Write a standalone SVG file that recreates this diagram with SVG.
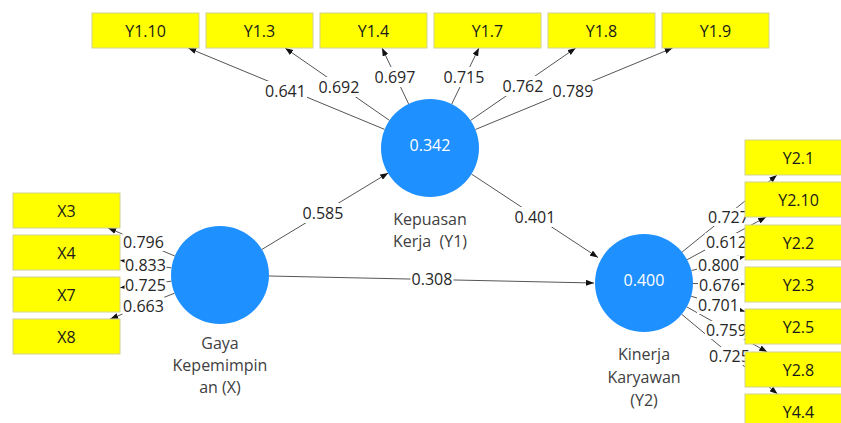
<svg xmlns="http://www.w3.org/2000/svg" width="841" height="423" viewBox="0 0 841 423">
<defs>
<marker id="arr" markerWidth="8" markerHeight="6" refX="8" refY="3" orient="auto" markerUnits="userSpaceOnUse">
<path d="M0,0 L8,3 L0,6 z" fill="#111"/>
</marker>
<style>
text{font-family:"Open Sans","Noto Sans","Liberation Sans",sans-serif;font-size:16px;text-anchor:middle}
.conn line{stroke:#555;stroke-width:1;marker-end:url(#arr)}
.lbl rect{fill:#fff}
.lbl text{fill:#262626}
.ind rect{fill:#ffff00;stroke:#d2d290;stroke-width:1}
.ind text{fill:#1a1a1a}
.lv circle{fill:#1e90ff}
.lv .val{fill:#ffffff}
.lv .name{fill:#404040}
</style>
</defs>
<rect width="841" height="423" fill="#ffffff"/>
<g id="connectors" class="conn">
<line x1="384.6" y1="129.4" x2="188.2" y2="48"/>
<line x1="389.5" y1="120.4" x2="285.1" y2="48"/>
<line x1="408.6" y1="103.9" x2="382" y2="48"/>
<line x1="451.7" y1="104.1" x2="478.9" y2="48"/>
<line x1="470.5" y1="120.5" x2="575.7" y2="48"/>
<line x1="475.4" y1="129.5" x2="672.6" y2="48"/>
<line x1="174.8" y1="256" x2="108.1" y2="228"/>
<line x1="171.5" y1="267.9" x2="120" y2="260.3"/>
<line x1="171.4" y1="281.2" x2="120" y2="287.7"/>
<line x1="174.5" y1="293.2" x2="110.2" y2="319"/>
<line x1="682" y1="252.1" x2="777" y2="175"/>
<line x1="687.1" y1="259.7" x2="766.1" y2="217"/>
<line x1="691.4" y1="270.6" x2="745" y2="256.5"/>
<line x1="693" y1="283.5" x2="745" y2="284"/>
<line x1="691.2" y1="296.3" x2="745" y2="311.4"/>
<line x1="686.8" y1="306.9" x2="767.2" y2="352"/>
<line x1="681.7" y1="314.3" x2="777.5" y2="394"/>
<line x1="261.8" y1="249.5" x2="388.2" y2="173"/>
<line x1="471.4" y1="174" x2="598" y2="257.5"/>
<line x1="269" y1="276" x2="594" y2="283"/>
<g class="lbl">
<rect x="264" y="81" width="43" height="20"/><text x="285.5" y="97">0.641</text>
<rect x="317.5" y="77" width="43" height="20"/><text x="339" y="93">0.692</text>
<rect x="373.5" y="67" width="43" height="20"/><text x="395" y="83">0.697</text>
<rect x="442.5" y="67" width="43" height="20"/><text x="464" y="83">0.715</text>
<rect x="501.5" y="76" width="43" height="20"/><text x="523" y="92">0.762</text>
<rect x="551.5" y="81" width="43" height="20"/><text x="573" y="97">0.789</text>
<rect x="122.5" y="233" width="42" height="18"/><text x="143.5" y="248">0.796</text>
<rect x="124.5" y="256" width="42" height="18"/><text x="145.5" y="271">0.833</text>
<rect x="124.5" y="276" width="42" height="18"/><text x="145.5" y="291">0.725</text>
<rect x="122.5" y="297" width="42" height="18"/><text x="143.5" y="312">0.663</text>
<rect x="707" y="208" width="43" height="18"/><text x="728.5" y="223">0.727</text>
<rect x="705" y="233" width="43" height="18"/><text x="726.5" y="248">0.612</text>
<rect x="697" y="256" width="43" height="18"/><text x="718.5" y="271">0.800</text>
<rect x="698" y="276" width="43" height="18"/><text x="719.5" y="291">0.676</text>
<rect x="697" y="296" width="43" height="18"/><text x="718.5" y="311">0.701</text>
<rect x="705" y="321" width="43" height="18"/><text x="726.5" y="336">0.759</text>
<rect x="708" y="347" width="43" height="18"/><text x="729.5" y="362">0.725</text>
<rect x="301.5" y="203" width="43" height="20"/><text x="323" y="219">0.585</text>
<rect x="513.5" y="207" width="43" height="20"/><text x="535" y="223">0.401</text>
<rect x="410.5" y="269" width="43" height="20"/><text x="432" y="285">0.308</text>
</g>
</g>
<g id="Y1.10" class="ind"><rect x="92" y="13" width="107" height="35"/><text x="145.5" y="37">Y1.10</text></g>
<g id="Y1.3" class="ind"><rect x="206" y="13" width="107" height="35"/><text x="259.5" y="37">Y1.3</text></g>
<g id="Y1.4" class="ind"><rect x="320" y="13" width="107" height="35"/><text x="373.5" y="37">Y1.4</text></g>
<g id="Y1.7" class="ind"><rect x="434" y="13" width="107" height="35"/><text x="487.5" y="37">Y1.7</text></g>
<g id="Y1.8" class="ind"><rect x="548" y="13" width="107" height="35"/><text x="601.5" y="37">Y1.8</text></g>
<g id="Y1.9" class="ind"><rect x="662" y="13" width="107" height="35"/><text x="715.5" y="37">Y1.9</text></g>
<g id="X3" class="ind"><rect x="13" y="193" width="107" height="35"/><text x="66.5" y="217">X3</text></g>
<g id="X4" class="ind"><rect x="13" y="235" width="107" height="35"/><text x="66.5" y="259">X4</text></g>
<g id="X7" class="ind"><rect x="13" y="277" width="107" height="35"/><text x="66.5" y="301">X7</text></g>
<g id="X8" class="ind"><rect x="13" y="319" width="107" height="35"/><text x="66.5" y="343">X8</text></g>
<g id="Y2.1" class="ind"><rect x="745" y="140" width="107" height="35"/><text x="798.5" y="164">Y2.1</text></g>
<g id="Y2.10" class="ind"><rect x="745" y="182" width="107" height="35"/><text x="798.5" y="206">Y2.10</text></g>
<g id="Y2.2" class="ind"><rect x="745" y="225" width="107" height="35"/><text x="798.5" y="249">Y2.2</text></g>
<g id="Y2.3" class="ind"><rect x="745" y="267" width="107" height="35"/><text x="798.5" y="291">Y2.3</text></g>
<g id="Y2.5" class="ind"><rect x="745" y="309" width="107" height="35"/><text x="798.5" y="333">Y2.5</text></g>
<g id="Y2.8" class="ind"><rect x="745" y="352" width="107" height="35"/><text x="798.5" y="376">Y2.8</text></g>
<g id="Y4.4" class="ind"><rect x="745" y="394" width="107" height="35"/><text x="798.5" y="418">Y4.4</text></g>
<g id="Y1" class="lv"><circle cx="430" cy="148" r="49"/><text class="val" x="430" y="151">0.342</text><text class="name" x="430" y="225">Kepuasan</text><text class="name" x="430" y="247">Kerja&#160; (Y1)</text></g>
<g id="X" class="lv"><circle cx="220" cy="275" r="49"/><text class="name" x="220" y="349">Gaya</text><text class="name" x="220" y="371">Kepemimpin</text><text class="name" x="220" y="393">an (X)</text></g>
<g id="Y2" class="lv"><circle cx="644" cy="283" r="49"/><text class="val" x="644" y="286">0.400</text><text class="name" x="644" y="360">Kinerja</text><text class="name" x="644" y="383">Karyawan</text><text class="name" x="644" y="406">(Y2)</text></g>
</svg>
